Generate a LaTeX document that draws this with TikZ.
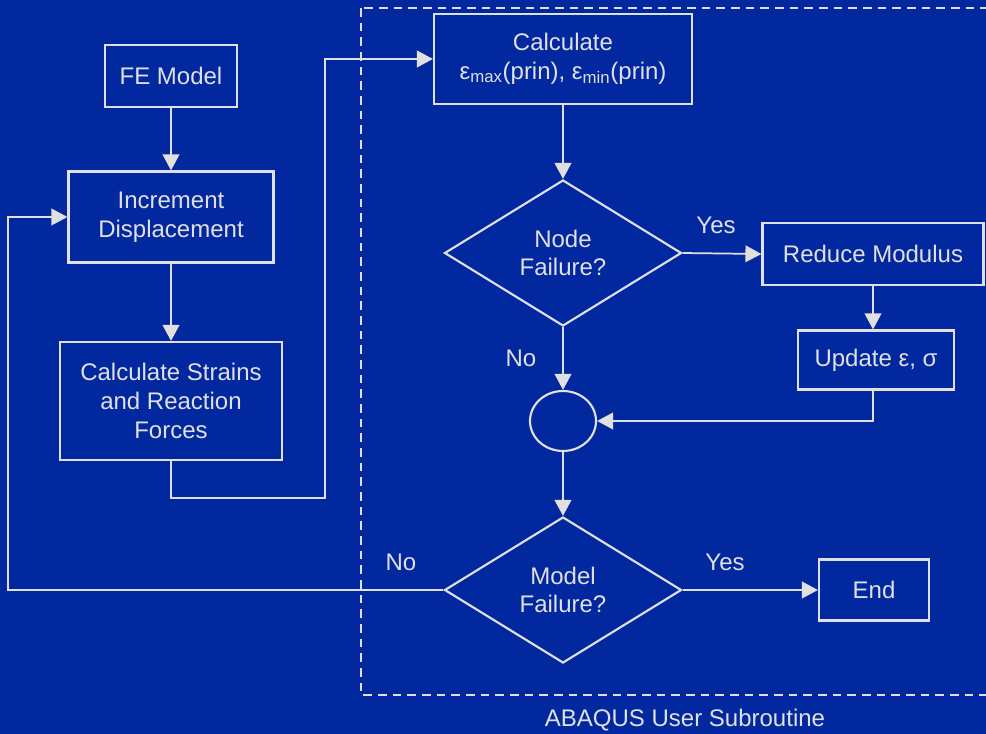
\documentclass[tikz,border=0pt]{standalone}
\usepackage{fontspec}
\setmainfont{Liberation Sans}
\usepackage{tikz}
\usetikzlibrary{arrows.meta,shapes.geometric}

\definecolor{slidebg}{RGB}{2,40,160}
\definecolor{ink}{RGB}{224,224,224}

\tikzset{
  every node/.style={text=ink, font=\fontsize{18}{21.5}\selectfont},
  stepbox/.style={draw=ink, line width=1.6pt, align=center, inner sep=2pt},
  decision/.style={draw=ink, line width=1.6pt, diamond, align=center, inner sep=0pt,
    minimum width=177.75pt, minimum height=109.5pt},
  flow/.style={draw=ink, line width=1.3pt, -{Triangle[length=12pt,width=12.5pt]}},
}

\begin{document}
\begin{tikzpicture}[x=0.75pt,y=-0.75pt]
\useasboundingbox (0,0) rectangle (986,734);
\fill[slidebg] (0,0) rectangle (986,734);

\draw[ink, line width=1.2pt, dash pattern=on 6.5pt off 4.5pt] (361,8) rectangle (1000,695);
\node (subr) at (685,720) {ABAQUS User Subroutine};

\node[stepbox, minimum width=99pt, minimum height=46.5pt] (fe) at (171,76) {FE Model};
\node[stepbox, minimum width=153.75pt, minimum height=68.25pt] (inc) at (171,217) {Increment\\Displacement};
\node[stepbox, minimum width=166.5pt, minimum height=88.5pt] (strains) at (171,401) {Calculate Strains\\and Reaction\\Forces};
\node[stepbox, minimum width=193.5pt, minimum height=67.5pt] (prin) at (563,59)
  {Calculate\\ε\textsubscript{max}(prin), ε\textsubscript{min}(prin)};
\node[decision] (nodefail) at (563,253) {Node\\Failure?};
\node[stepbox, minimum width=165.75pt, minimum height=46.5pt] (reduce) at (873,254) {Reduce Modulus};
\node[stepbox, minimum width=117pt, minimum height=44.25pt] (update) at (876,360) {Update ε, σ};
\node[draw=ink, line width=1.6pt, ellipse, minimum width=49.5pt, minimum height=45pt] (join) at (563,421) {};
\node[decision] (modelfail) at (563,590) {Model\\Failure?};
\node[stepbox, minimum width=82.5pt, minimum height=45.75pt] (end) at (874,590) {End};

\node (yes1) at (716,225) {Yes};
\node (no1) at (521,358) {No};
\node (no2) at (401,562) {No};
\node (yes2) at (725,562) {Yes};

\coordinate (bend) at (325,498);
\coordinate (back) at (8,590);

\draw[flow] (fe) -- (inc);
\draw[flow] (inc) -- (strains);
\draw[flow] (strains.south) |- (bend) |- (prin.west);
\draw[flow] (prin) -- (nodefail);
\draw[flow] (nodefail.east) -- (reduce.west);
\draw[flow] (reduce) -- (update.north -| reduce);
\draw[flow] (nodefail.south) -- (join.north);
\draw[flow] (update.south -| reduce) |- (join.east);
\draw[flow] (join.south) -- (modelfail.north);
\draw[flow] (modelfail.east) -- (end.west);
\draw[flow] (modelfail.west) -- (back) |- (inc.west);
\end{tikzpicture}
\end{document}
